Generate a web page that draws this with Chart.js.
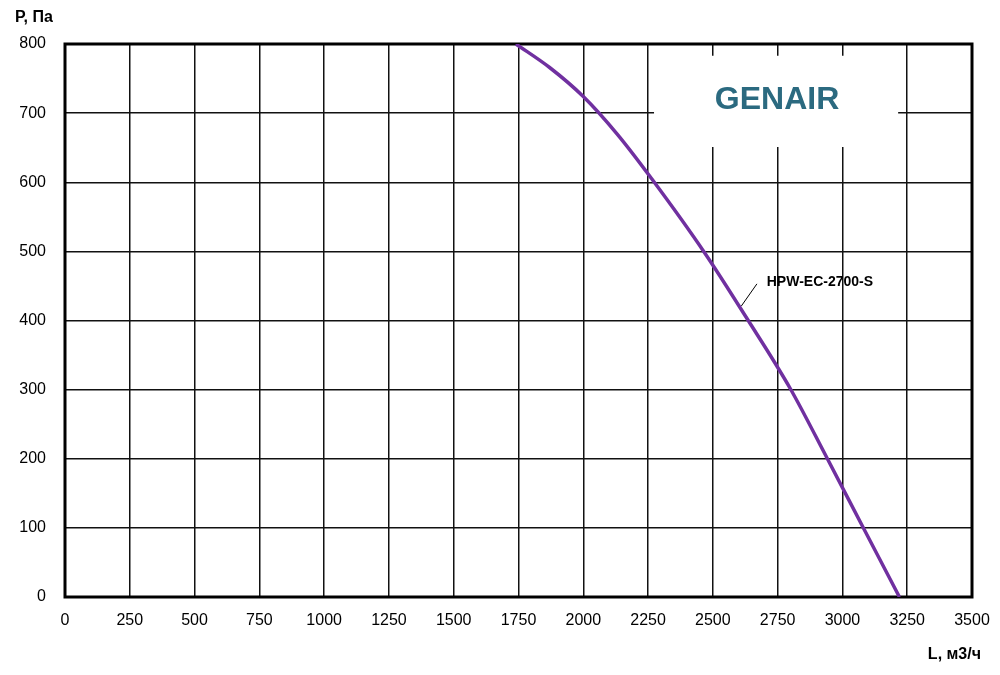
<!DOCTYPE html>
<html>
<head>
<meta charset="utf-8">
<script src="https://cdn.jsdelivr.net/npm/chart.js@4.4.1/dist/chart.umd.min.js"></script>
<style>
  html, body { margin: 0; padding: 0; background: #fff; }
  #wrap { width: 1000px; height: 675px; }
</style>
</head>
<body>
<div id="wrap"><canvas id="fanChart" width="1000" height="675"></canvas></div>
<script>
// air flow L, m3/h  and pressure P, Pa
const flowValues = [1740, 1870, 2000, 2130, 2264, 2470, 2628, 2798, 2942, 3078, 3220]
const pressureValues = [800, 766, 724, 670, 605, 497, 405, 302, 200, 102, 0]
const xTicks = [0, 250, 500, 750, 1000, 1250, 1500, 1750, 2000, 2250, 2500, 2750, 3000, 3250, 3500]
const yTicks = [0, 100, 200, 300, 400, 500, 600, 700, 800]
const seriesName = 'HPW-EC-2700-S'

const points = flowValues.map((v, i) => ({ x: v, y: pressureValues[i] }))

const lblFont = "'Liberation Sans', Arial, sans-serif"

// white logo box, frame and captions
const decor = {
  id: 'decor',
  beforeDatasetsDraw(chart) {
    const ctx = chart.ctx
    const xs = chart.scales.x, ys = chart.scales.y
    const a = chart.chartArea
    ctx.save()
    // logo box hides part of the grid
    const bx1 = xs.getPixelForValue(2273), bx2 = xs.getPixelForValue(3215)
    const by1 = ys.getPixelForValue(783), by2 = ys.getPixelForValue(651)
    ctx.fillStyle = '#ffffff'
    ctx.fillRect(bx1, by1, bx2 - bx1, by2 - by1)
    ctx.fillStyle = '#2b6a80'
    ctx.font = "bold 32px 'Liberation Sans', Arial, sans-serif"
    ctx.textAlign = 'center'
    ctx.textBaseline = 'middle'
    ctx.fillText('GENAIR', (bx1 + bx2) / 2 + 1, 100)
    // frame
    ctx.strokeStyle = '#000'
    ctx.lineWidth = 3
    ctx.strokeRect(a.left, a.top, a.right - a.left, a.bottom - a.top)
    ctx.restore()
  },
  afterDraw(chart) {
    const ctx = chart.ctx
    const xs = chart.scales.x, ys = chart.scales.y
    ctx.save()
    ctx.fillStyle = '#000'
    ctx.font = 'bold 16px ' + lblFont
    ctx.textBaseline = 'middle'
    ctx.textAlign = 'left'
    ctx.fillText('P, Па', 15, 18)
    ctx.textAlign = 'right'
    ctx.fillText('L, м3/ч', 981, 655)
    // series label with leader line
    ctx.strokeStyle = '#000'
    ctx.lineWidth = 1
    ctx.beginPath()
    ctx.moveTo(xs.getPixelForValue(2610), ys.getPixelForValue(421))
    ctx.lineTo(xs.getPixelForValue(2670), ys.getPixelForValue(453))
    ctx.stroke()
    ctx.font = 'bold 14px ' + lblFont
    ctx.textAlign = 'left'
    ctx.fillText(seriesName, xs.getPixelForValue(2708), ys.getPixelForValue(455))
    ctx.restore()
  }
}

new Chart(document.getElementById('fanChart'), {
  type: 'scatter',
  data: {
    datasets: [{
      label: seriesName,
      data: points,
      showLine: true,
      borderColor: '#7030a0',
      borderWidth: 3.5,
      pointRadius: 0,
      cubicInterpolationMode: 'monotone',
      fill: false
    }]
  },
  options: {
    responsive: false,
    animation: false,
    layout: { padding: { top: 44, right: 28, left: 0, bottom: 0 } },
    plugins: { legend: { display: false }, tooltip: { enabled: false } },
    scales: {
      x: {
        type: 'linear',
        min: 0,
        max: 3500,
        afterBuildTicks(s) { s.ticks = xTicks.map(v => ({ value: v })) },
        afterFit(s) {
          s.height = 78
          s.paddingLeft = 0
          s.paddingRight = 0
        },
        grid: { color: '#111', lineWidth: 1.5, drawTicks: false },
        border: { display: false },
        ticks: {
          color: '#000',
          padding: 14,
          maxRotation: 0,
          font: { family: lblFont, size: 16 },
          callback: v => String(v)
        }
      },
      y: {
        type: 'linear',
        min: 0,
        max: 800,
        afterBuildTicks(s) { s.ticks = yTicks.map(v => ({ value: v })) },
        afterFit(s) {
          s.width = 65
          s.paddingTop = 0
          s.paddingBottom = 0
        },
        grid: { color: '#111', lineWidth: 1.5, drawTicks: false },
        border: { display: false },
        ticks: {
          color: '#000',
          padding: 19,
          font: { family: lblFont, size: 16 },
          callback: v => String(v)
        }
      }
    }
  },
  plugins: [decor]
})
</script>
</body>
</html>
